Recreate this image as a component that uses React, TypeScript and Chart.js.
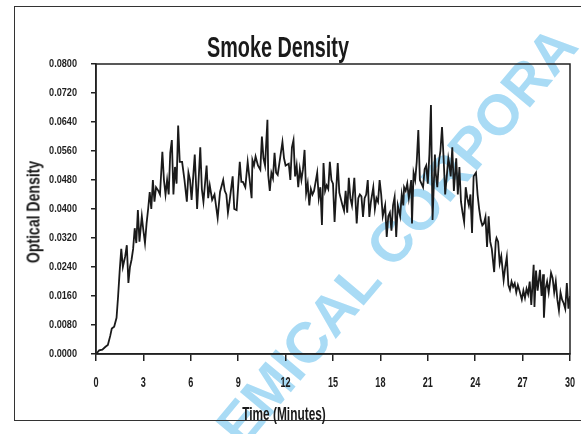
import React, { useEffect, useRef } from "react";
import { Chart, registerables } from "chart.js";

Chart.register(...registerables);

const FONT = "'Liberation Sans', Arial, sans-serif";

const chartTitle = "Smoke Density";
const xTitle = "Time (Minutes)";
const yTitle = "Optical Density";
const watermark = "EMICAL CORPORA";

const xTicks = [0, 3, 6, 9, 12, 15, 18, 21, 24, 27, 30];
const yTicks = [0, 0.008, 0.016, 0.024, 0.032, 0.04, 0.048, 0.056, 0.064, 0.072, 0.08];
const yTickLabels = ["0.0000", "0.0080", "0.0160", "0.0240", "0.0320", "0.0400", "0.0480", "0.0560", "0.0640", "0.0720", "0.0800"];

const times = [
  0.0, 0.2, 0.4, 0.6, 0.75, 0.9, 1.0, 1.15, 1.3, 1.4, 1.5, 1.6, 1.7, 1.85, 1.95, 2.05, 2.15, 2.25, 2.35, 2.45,
  2.55, 2.65, 2.75, 2.9, 3.0, 3.1, 3.2, 3.3, 3.4, 3.5, 3.6, 3.7, 3.8, 3.95, 4.05, 4.2, 4.3, 4.4, 4.5, 4.6,
  4.7, 4.8, 4.9, 5.0, 5.1, 5.2, 5.3, 5.45, 5.6, 5.75, 5.85, 5.95, 6.05, 6.25, 6.4, 6.6, 6.7, 6.8, 7.0, 7.1,
  7.2, 7.35, 7.5, 7.7, 7.85, 8.05, 8.15, 8.25, 8.35, 8.45, 8.65, 8.75, 8.9, 9.1, 9.2, 9.3, 9.45, 9.6, 9.85, 9.9,
  10.0, 10.1, 10.25, 10.4, 10.5, 10.6, 10.7, 10.85, 10.9, 11.0, 11.1, 11.2, 11.3, 11.4, 11.5, 11.8, 11.9, 12.0, 12.2, 12.3,
  12.4, 12.5, 12.6, 12.7, 12.8, 12.9, 13.0, 13.1, 13.2, 13.3, 13.4, 13.5, 13.6, 13.7, 13.8, 14.0, 14.1, 14.2, 14.3, 14.4,
  14.5, 14.6, 14.7, 14.8, 14.9, 15.0, 15.1, 15.2, 15.3, 15.4, 15.6, 15.7, 15.8, 15.9, 16.0, 16.1, 16.2, 16.35, 16.5, 16.6,
  16.7, 16.8, 16.9, 17.0, 17.1, 17.2, 17.3, 17.4, 17.55, 17.65, 17.75, 17.85, 17.95, 18.05, 18.15, 18.3, 18.4, 18.5, 18.6, 18.7,
  18.8, 18.9, 19.0, 19.1, 19.25, 19.35, 19.45, 19.5, 19.6, 19.7, 19.8, 19.95, 20.0, 20.1, 20.2, 20.3, 20.4, 20.5, 20.7, 20.8,
  20.9, 21.0, 21.1, 21.2, 21.3, 21.45, 21.5, 21.6, 21.7, 21.8, 21.9, 22.0, 22.1, 22.2, 22.3, 22.35, 22.45, 22.55, 22.65, 22.8,
  22.9, 23.0, 23.1, 23.2, 23.3, 23.4, 23.5, 23.6, 23.7, 23.8, 23.9, 24.05, 24.15, 24.25, 24.35, 24.45, 24.55, 24.65, 24.75, 24.85,
  24.95, 25.05, 25.2, 25.3, 25.35, 25.45, 25.55, 25.65, 25.8, 25.9, 26.0, 26.1, 26.2, 26.3, 26.4, 26.5, 26.6, 26.7, 26.8, 26.95,
  27.05, 27.15, 27.25, 27.35, 27.45, 27.55, 27.7, 27.75, 27.85, 27.95, 28.1, 28.2, 28.3, 28.35, 28.45, 28.55, 28.65, 28.8, 28.9, 29.0,
  29.1, 29.2, 29.3, 29.4, 29.5, 29.6, 29.7, 29.8, 29.9, 30.0,
];

const density = [
  0.0, 0.001, 0.0012, 0.002, 0.0025, 0.005, 0.007, 0.0075, 0.01, 0.016, 0.023, 0.029, 0.024, 0.027, 0.03, 0.0196, 0.024, 0.026, 0.029, 0.0347,
  0.0306, 0.0397, 0.031, 0.038, 0.034, 0.0306, 0.036, 0.04, 0.0447, 0.04, 0.048, 0.042, 0.046, 0.045, 0.044, 0.0558, 0.048, 0.044, 0.048, 0.044,
  0.0555, 0.059, 0.044, 0.0516, 0.047, 0.063, 0.053, 0.053, 0.048, 0.042, 0.05, 0.048, 0.0425, 0.055, 0.04, 0.057, 0.0455, 0.042, 0.052, 0.043,
  0.0465, 0.0425, 0.044, 0.0375, 0.0447, 0.048, 0.045, 0.044, 0.039, 0.042, 0.049, 0.04, 0.0397, 0.053, 0.0475, 0.0475, 0.046, 0.053, 0.043, 0.0535,
  0.052, 0.0545, 0.052, 0.0508, 0.06, 0.054, 0.052, 0.0646, 0.0494, 0.045, 0.05, 0.0485, 0.0555, 0.05, 0.0494, 0.0585, 0.054, 0.052, 0.0525, 0.048,
  0.057, 0.059, 0.049, 0.052, 0.046, 0.051, 0.048, 0.051, 0.0563, 0.0444, 0.047, 0.041, 0.0455, 0.044, 0.045, 0.05, 0.043, 0.046, 0.0356, 0.0527,
  0.045, 0.0465, 0.0455, 0.053, 0.048, 0.047, 0.0364, 0.045, 0.0527, 0.0445, 0.041, 0.0395, 0.045, 0.039, 0.0486, 0.043, 0.041, 0.0486, 0.036, 0.043,
  0.044, 0.0435, 0.0378, 0.043, 0.044, 0.048, 0.0378, 0.042, 0.046, 0.04, 0.043, 0.042, 0.048, 0.044, 0.038, 0.041, 0.0323, 0.038, 0.039, 0.034,
  0.041, 0.0433, 0.0323, 0.041, 0.038, 0.044, 0.041, 0.046, 0.045, 0.047, 0.043, 0.048, 0.036, 0.05, 0.048, 0.053, 0.0618, 0.048, 0.046, 0.051,
  0.052, 0.047, 0.055, 0.0687, 0.037, 0.055, 0.05, 0.046, 0.053, 0.056, 0.0626, 0.054, 0.044, 0.049, 0.054, 0.0527, 0.049, 0.057, 0.045, 0.054,
  0.044, 0.0516, 0.042, 0.039, 0.0364, 0.046, 0.043, 0.041, 0.044, 0.0334, 0.049, 0.05, 0.044, 0.04, 0.037, 0.0355, 0.036, 0.0378, 0.0295, 0.038,
  0.031, 0.029, 0.0226, 0.031, 0.032, 0.031, 0.025, 0.027, 0.0204, 0.024, 0.0268, 0.019, 0.0177, 0.02, 0.0185, 0.0195, 0.017, 0.019, 0.0175, 0.015,
  0.0175, 0.0155, 0.018, 0.0165, 0.02, 0.0135, 0.0246, 0.013, 0.023, 0.0175, 0.0232, 0.016, 0.022, 0.01, 0.018, 0.02, 0.017, 0.0224, 0.021, 0.017,
  0.02, 0.015, 0.012, 0.017, 0.015, 0.014, 0.0125, 0.0196, 0.0125, 0.016,
];

const plotBox = {
  id: "plotBox",
  afterDraw(chart: any) {
    const { ctx, chartArea } = chart;
    const { left, top, right, bottom } = chartArea;
    ctx.save();
    ctx.strokeStyle = "#222";
    ctx.lineWidth = 1.5;
    ctx.strokeRect(left, top, right - left, bottom - top);
    ctx.restore();
  },
};

// condensed tick labels, placed at the scales' own tick pixels
const condensedLabels = {
  id: "condensedLabels",
  afterDraw(chart: any) {
    const { ctx, chartArea } = chart;
    const xs = chart.scales.x;
    const ys = chart.scales.y;
    ctx.save();
    ctx.fillStyle = "#1e1e1e";
    ctx.font = `bold 11px ${FONT}`;
    ctx.textAlign = "right";
    ctx.textBaseline = "middle";
    yTicks.forEach((v, i) => {
      const py = ys.getPixelForValue(v);
      ctx.save();
      ctx.translate(chartArea.left - 19, py);
      ctx.scale(0.83, 1);
      ctx.fillText(yTickLabels[i], 0, 0);
      ctx.restore();
    });
    ctx.font = `bold 14px ${FONT}`;
    ctx.textAlign = "center";
    ctx.textBaseline = "alphabetic";
    xTicks.forEach((v) => {
      const px = xs.getPixelForValue(v);
      ctx.save();
      ctx.translate(px, chartArea.bottom + 33);
      ctx.scale(0.65, 1);
      ctx.fillText(String(v), 0, 0);
      ctx.restore();
    });
    ctx.restore();
  },
};

export default function App() {
  const canvasRef = useRef<HTMLCanvasElement | null>(null);

  useEffect(() => {
    if (!canvasRef.current) return;
    const points = times.map((t, i) => ({ x: t, y: density[i] }));
    const chart = new Chart(canvasRef.current, {
      type: "line",
      data: {
        datasets: [
          {
            data: points,
            borderColor: "#1a1a1a",
            borderWidth: 1.8,
            pointRadius: 0,
            tension: 0,
            fill: false,
          },
        ],
      },
      options: {
        animation: false,
        responsive: false,
        maintainAspectRatio: false,
        layout: { padding: { left: 0, top: 64, right: 11, bottom: 0 } },
        plugins: { legend: { display: false }, tooltip: { enabled: false }, title: { display: false } },
        scales: {
          x: {
            type: "linear",
            min: 0,
            max: 30,
            afterBuildTicks: (s: any) => {
              s.ticks = xTicks.map((v) => ({ value: v }));
            },
            afterFit: (s: any) => {
              s.height = 80;
            },
            ticks: { display: false },
            grid: { drawOnChartArea: false, drawTicks: true, tickLength: 7, color: "#222", lineWidth: 1.5 },
            border: { display: true, color: "#222", width: 1.5 },
          },
          y: {
            type: "linear",
            min: 0,
            max: 0.08,
            afterBuildTicks: (s: any) => {
              s.ticks = yTicks.map((v) => ({ value: v }));
            },
            afterFit: (s: any) => {
              s.width = 96;
            },
            ticks: { display: false },
            grid: { drawOnChartArea: false, drawTicks: true, tickLength: 5, color: "#222", lineWidth: 1.5 },
            border: { display: true, color: "#222", width: 1.5 },
          },
        },
      },
      plugins: [plotBox, condensedLabels],
    } as any);
    return () => chart.destroy();
  }, []);

  return (
    <div style={{ position: "absolute", left: 0, top: 0, width: 581, height: 434, overflow: "hidden", background: "#fff" }}>
      <div style={{ position: "absolute", left: 250, top: 446, width: 0, height: 0 }}>
        <div
          style={{
            position: "absolute",
            left: 0,
            bottom: -9,
            fontFamily: FONT,
            fontWeight: "bold",
            fontSize: 57,
            lineHeight: 1,
            color: "#a9dbf5",
            transform: "rotate(-50deg)",
            transformOrigin: "0 100%",
            whiteSpace: "nowrap",
          }}
        >
          {watermark}
        </div>
      </div>
      <div
        style={{
          position: "absolute",
          left: 14,
          top: 6,
          width: 600,
          height: 413,
          borderLeft: "1.5px solid #333",
          borderTop: "1.5px solid #333",
          borderBottom: "1.5px solid #333",
        }}
      />
      <canvas ref={canvasRef} width={581} height={434} style={{ position: "absolute", left: 0, top: 0, width: 581, height: 434 }} />
      <div
        style={{
          position: "absolute",
          left: 128,
          top: 32,
          width: 300,
          textAlign: "center",
          fontFamily: FONT,
          fontWeight: "bold",
          fontSize: 30,
          lineHeight: "30px",
          color: "#1a1a1a",
          transform: "scaleX(0.66)",
          whiteSpace: "nowrap",
        }}
      >
        {chartTitle}
      </div>
      <div
        style={{
          position: "absolute",
          left: 184,
          top: 405,
          width: 200,
          textAlign: "center",
          fontFamily: FONT,
          fontWeight: "bold",
          fontSize: 18,
          lineHeight: "18px",
          color: "#1a1a1a",
          transform: "scaleX(0.66)",
          whiteSpace: "nowrap",
        }}
      >
        {xTitle}
      </div>
      <div style={{ position: "absolute", left: 33, top: 212, width: 0, height: 0 }}>
        <div
          style={{
            position: "absolute",
            left: 0,
            top: 0,
            fontFamily: FONT,
            fontWeight: "bold",
            fontSize: 19,
            lineHeight: "19px",
            color: "#1a1a1a",
            transform: "translate(-50%, -50%) rotate(-90deg) scaleX(0.74)",
            whiteSpace: "nowrap",
          }}
        >
          {yTitle}
        </div>
      </div>
    </div>
  );
}
